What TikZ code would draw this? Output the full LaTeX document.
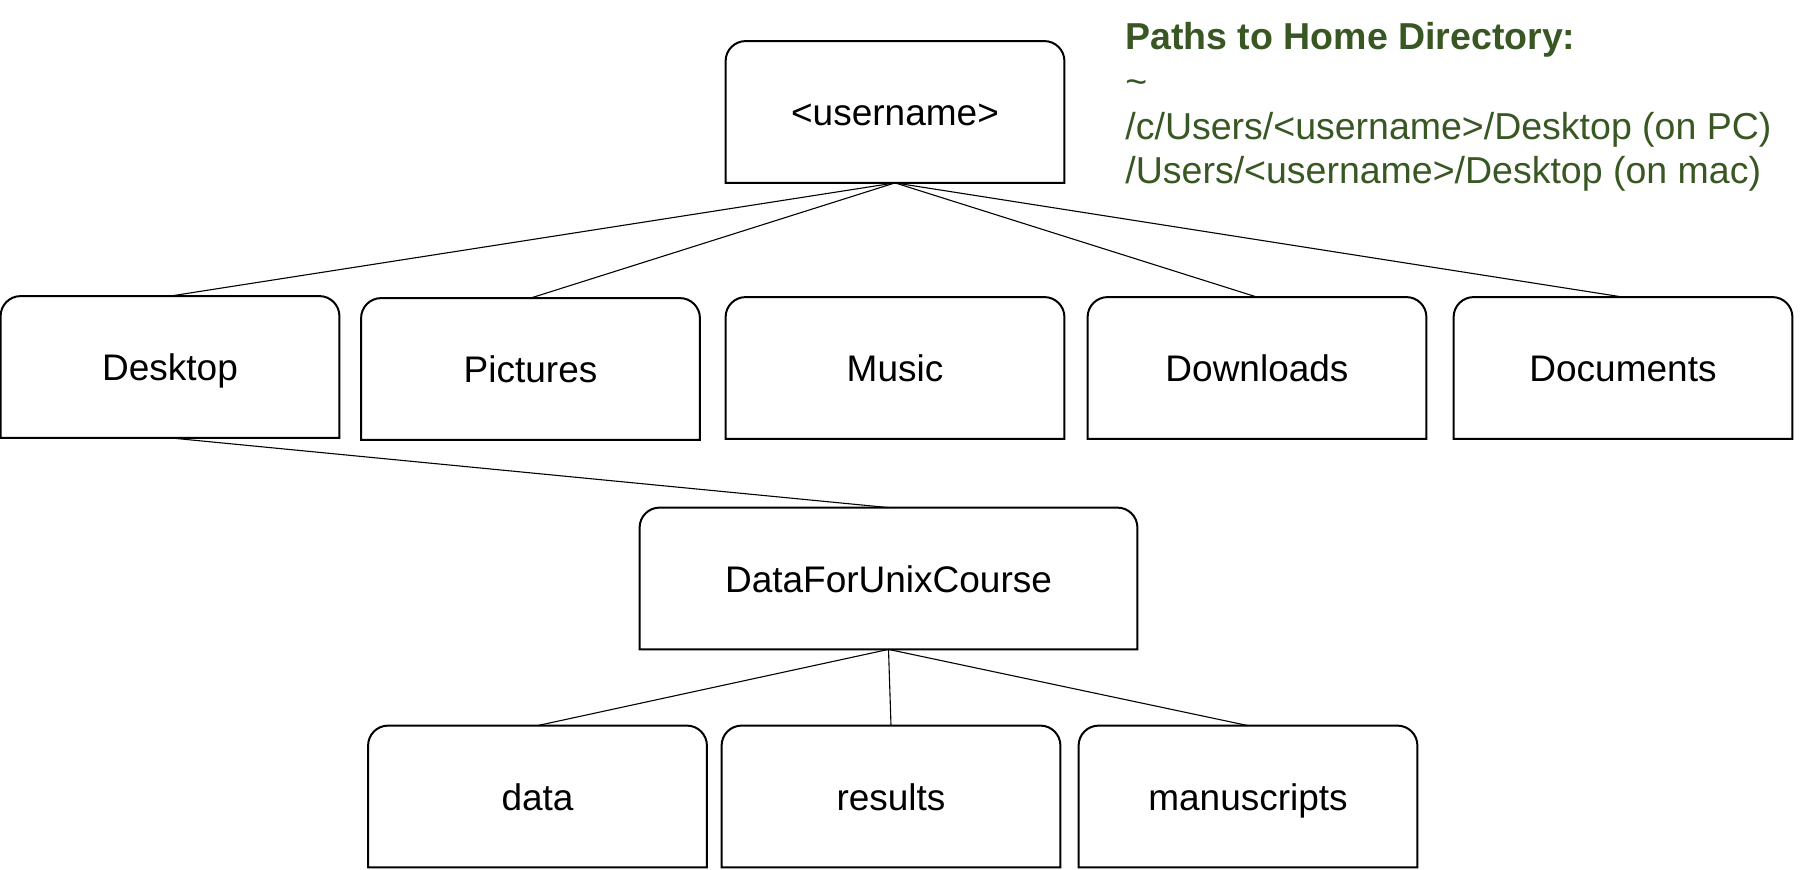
\documentclass[tikz,border=0pt]{standalone}
\usepackage{fontspec}
\setmainfont{Liberation Sans}
\definecolor{pathgreen}{RGB}{56,87,35}
\newcommand\tabframe[1]{%
  \draw[frameline] (#1.south west) -- ([yshift=-10pt]#1.north west)
    arc[start angle=180,end angle=90,radius=10pt]
    -- ([xshift=-10pt]#1.north east)
    arc[start angle=90,end angle=0,radius=10pt]
    -- (#1.south east) -- cycle;}
\begin{document}
\begin{tikzpicture}[x=0.5pt,y=-0.5pt,
  folder/.style={minimum width=169pt,minimum height=70.5pt,inner sep=0pt,
    text height=16pt,text depth=2pt,
    font=\fontsize{18.5}{22}\selectfont},
  frameline/.style={line width=1pt,black},
  link/.style={line width=0.55pt,black}]
\useasboundingbox (0,0) rectangle (1818,870);
\node[folder] (user) at (895,112) {<username>};
\node[folder] (desk) at (170,367) {Desktop};
\node[folder] (pict) at (530.5,369) {Pictures};
\node[folder] (music) at (895,368) {Music};
\node[folder] (down) at (1257,368) {Downloads};
\node[folder] (docs) at (1623,368) {Documents};
\node[folder,minimum width=248.5pt] (dfuc) at (888.5,578.5) {DataForUnixCourse};
\node[folder] (data) at (537.5,796.5) {data};
\node[folder] (res) at (891,796.5) {results};
\node[folder] (manu) at (1248,796.5) {manuscripts};
\foreach \n in {user,desk,pict,music,down,docs,dfuc,data,res,manu} {\tabframe{\n}}
\draw[link] (user.south) -- (desk.north);
\draw[link] (user.south) -- (pict.north);
\draw[link] (user.south) -- (down.north);
\draw[link] (user.south) -- (docs.north);
\draw[link] (desk.south) -- (dfuc.north);
\draw[link] (dfuc.south) -- (data.north);
\draw[link] (dfuc.south) -- (res.north);
\draw[link] (dfuc.south) -- (manu.north);
\node[anchor=base west,inner sep=0pt,align=left,text=pathgreen,
  font=\fontsize{18.75}{22.4}\selectfont] (paths) at (1125,184)
  {\textbf{Paths to Home Directory:}\\
   \textasciitilde\\
   /c/Users/<username>/Desktop (on PC)\\
   /Users/<username>/Desktop (on mac)};
\end{tikzpicture}
\end{document}
